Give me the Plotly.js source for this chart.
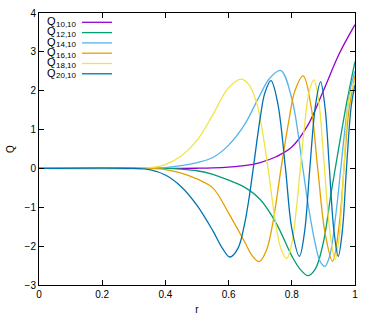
<!DOCTYPE html>
<html>
<head>
<meta charset="utf-8">
<script src="https://cdn.plot.ly/plotly-3.0.1.min.js"></script>
<style>
html, body { margin: 0; padding: 0; background: #fff; }
#chart { width: 374px; height: 320px; }
</style>
</head>
<body>
<div id="chart"></div>
<script>
// series labels (Q with subscript n,m) and colours, gnuplot default palette
const seriesSubs = ['10,10', '12,10', '14,10', '16,10', '18,10', '20,10'];
const seriesColors = ['#9400d3', '#009e73', '#56b4e9', '#e69f00', '#f0e442', '#0072b2'];

// values
const r10 = [0, 0.45, 0.5, 0.55, 0.6, 0.65, 0.7, 0.75, 0.8, 0.85, 0.9, 0.95, 1.0];
const q10 = [0, 0, 0.005, 0.015, 0.035, 0.07, 0.15, 0.3, 0.55, 1.1, 2.0, 2.95, 3.7];

const r12 = [0, 0.4, 0.45, 0.5, 0.55, 0.6, 0.65, 0.7, 0.75, 0.8, 0.825, 0.852, 0.875, 0.9, 0.925, 0.95, 0.975, 1.0];
const q12 = [0, 0, -0.02, -0.06, -0.15, -0.3, -0.48, -0.8, -1.4, -2.25, -2.58, -2.76, -2.58, -1.9, -0.6, 0.6, 1.75, 2.75];

const r14 = [0, 0.35, 0.4, 0.45, 0.5, 0.55, 0.6, 0.65, 0.7, 0.73, 0.765, 0.8, 0.835, 0.85, 0.875, 0.89, 0.905, 0.92, 0.94, 0.955, 0.97, 0.985, 1.0];
const q14 = [0, 0, 0.02, 0.07, 0.15, 0.28, 0.6, 1.12, 1.9, 2.32, 2.52, 1.8, 0, -0.85, -1.97, -2.4, -2.52, -2.25, -1.14, 0, 1.14, 2.04, 2.5];

const r16 = [0, 0.35, 0.4, 0.45, 0.5, 0.55, 0.6, 0.65, 0.675, 0.697, 0.72, 0.74, 0.766, 0.79, 0.81, 0.836, 0.86, 0.882, 0.905, 0.929, 0.95, 0.965, 0.98, 1.0];
const q16 = [0, 0, -0.03, -0.12, -0.27, -0.5, -1.15, -1.88, -2.25, -2.4, -2.1, -1.4, 0, 1.2, 2.0, 2.38, 1.65, 0, -1.65, -2.39, -1.45, 0, 1.45, 2.39];

const r18 = [0, 0.3, 0.35, 0.4, 0.45, 0.5, 0.55, 0.6, 0.641, 0.665, 0.689, 0.705, 0.725, 0.745, 0.765, 0.784, 0.8, 0.815, 0.827, 0.84, 0.855, 0.87, 0.885, 0.9, 0.915, 0.925, 0.937, 0.95, 0.965, 0.98, 1.0];
const q18 = [0, 0, 0.02, 0.1, 0.32, 0.72, 1.38, 2.08, 2.3, 2.15, 1.68, 1.05, 0, -1.2, -2.05, -2.32, -1.93, -1.0, 0, 1.07, 1.98, 2.28, 1.74, 0.37, -1.2, -1.9, -2.35, -1.75, 0, 1.75, 2.25];

const r20 = [0, 0.3, 0.35, 0.4, 0.45, 0.5, 0.55, 0.58, 0.604, 0.63, 0.65, 0.665, 0.678, 0.7, 0.715, 0.734, 0.755, 0.78, 0.8, 0.824, 0.84, 0.857, 0.875, 0.891, 0.905, 0.919, 0.933, 0.947, 0.96, 0.973, 0.988, 1.0];
const q20 = [0, 0, -0.03, -0.17, -0.47, -0.95, -1.6, -2.05, -2.28, -2.05, -1.45, -0.75, 0, 1.3, 1.95, 2.26, 1.7, 0, -1.55, -2.26, -1.66, 0, 1.63, 2.23, 1.58, 0, -1.58, -2.26, -1.6, 0, 1.6, 2.15];

const xTicks = [0, 0.2, 0.4, 0.6, 0.8, 1];
const xTickText = ['0', '0.2', '0.4', '0.6', '0.8', '1'];
const yTicks = [-3, -2, -1, 0, 1, 2, 3, 4];

const rs = [r10, r12, r14, r16, r18, r20];
const qs = [q10, q12, q14, q16, q18, q20];

const traces = rs.map((r, i) => ({
    x: r,
    y: qs[i],
    type: 'scatter',
    mode: 'lines',
    name: 'Q' + seriesSubs[i],
    line: { color: seriesColors[i], width: 1.3, shape: 'spline', smoothing: 1 },
    showlegend: false,
    hoverinfo: 'skip'
}));

// gnuplot style key: text on the left, line sample on the right
const plotTop = 13, plotBottom = 285, plotLeft = 39, plotWidth = 316;
const toPaperY = (py) => (plotBottom - py) / (plotBottom - plotTop);
const toPaperX = (px) => (px - plotLeft) / plotWidth;
const keyFont = { family: 'Liberation Sans, Arial, sans-serif', color: '#000' };

const annotations = [];
const shapes = [];
seriesSubs.forEach((sub, i) => {
    const py = 22.3 + 10.3 * i;
    annotations.push({
        xref: 'paper', yref: 'paper',
        x: toPaperX(57), y: toPaperY(py - 1.3),
        xanchor: 'right', yanchor: 'middle',
        text: 'Q', showarrow: false, borderpad: 0,
        font: { ...keyFont, size: 11 }
    });
    annotations.push({
        xref: 'paper', yref: 'paper',
        x: toPaperX(57), y: toPaperY(py + 2),
        xanchor: 'left', yanchor: 'middle', xshift: -2.5,
        text: sub, showarrow: false, borderpad: 0,
        font: { ...keyFont, size: 8 }
    });
    shapes.push({
        type: 'line', xref: 'paper', yref: 'paper',
        x0: toPaperX(82), x1: toPaperX(112),
        y0: toPaperY(py), y1: toPaperY(py),
        line: { color: seriesColors[i], width: 1.3 }
    });
});

const font = { family: 'Liberation Sans, Arial, sans-serif', size: 10, color: '#000' };

const layout = {
    width: 374,
    height: 320,
    margin: { l: 39, r: 19, t: 13, b: 35 },
    paper_bgcolor: '#fff',
    plot_bgcolor: '#fff',
    font: font,
    showlegend: false,
    xaxis: {
        range: [0, 1],
        tickvals: xTicks,
        ticktext: xTickText,
        ticks: 'inside',
        ticklen: 5,
        tickcolor: '#000',
        showline: true,
        linecolor: '#000',
        linewidth: 1,
        mirror: 'ticks',
        showgrid: false,
        zeroline: false,
        tickfont: font,
        title: { text: 'r', font: font, standoff: 6 }
    },
    yaxis: {
        range: [-3, 4],
        tickvals: yTicks,
        ticks: 'inside',
        ticklen: 5,
        tickcolor: '#000',
        showline: true,
        linecolor: '#000',
        linewidth: 1,
        mirror: 'ticks',
        showgrid: false,
        zeroline: false,
        tickfont: font,
        title: { text: 'Q', font: font, standoff: 8 }
    },
    annotations: annotations,
    shapes: shapes
};

Plotly.newPlot('chart', traces, layout, { displayModeBar: false, staticPlot: true });
</script>
</body>
</html>
